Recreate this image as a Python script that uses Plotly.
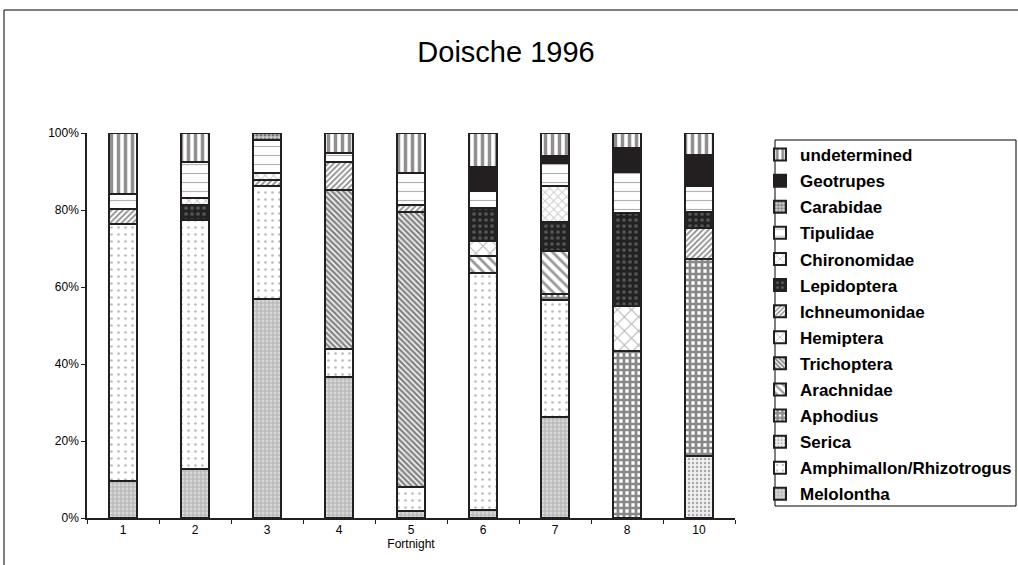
import plotly.graph_objects as go

categories = ["1", "2", "3", "4", "5", "6", "7", "8", "10"]

melolontha = [9.6, 12.8, 57.0, 36.5, 1.8, 2.0, 26.3, 0, 0]
amphimallon = [66.7, 64.7, 29.2, 7.5, 6.3, 61.6, 30.4, 0, 0]
serica = [0, 0, 0, 0, 0, 0, 0, 0, 16.1]
aphodius = [0, 0, 0, 0, 0, 0, 1.6, 43.3, 51.3]
arachnidae = [0, 0, 0, 0, 0, 4.4, 11.0, 0, 0]
trichoptera = [0, 0, 0, 41.2, 71.4, 0, 0, 0, 0]
hemiptera = [0, 0, 0, 0, 0, 4.0, 0, 11.7, 0]
ichneumonidae = [3.9, 0, 1.7, 7.3, 1.9, 0, 0, 0, 8.0]
lepidoptera = [0, 3.7, 0, 0, 0, 8.6, 7.6, 24.3, 4.1]
chironomidae = [0, 2.0, 1.6, 0, 0, 0, 9.4, 0, 0]
tipulidae = [3.9, 9.3, 8.7, 2.2, 8.1, 4.3, 5.8, 10.6, 6.7]
carabidae = [0, 0, 1.8, 0, 0, 0, 0, 0, 0]
geotrupes = [0, 0, 0, 0, 0, 6.3, 2.0, 6.3, 8.1]
undetermined = [15.9, 7.5, 0, 5.3, 10.5, 8.8, 5.9, 3.8, 5.7]

series = [
    ("Melolontha", melolontha, dict(shape="+", fgcolor="#8a8a8a", bgcolor="#d8d8d8", size=4, solidity=0.45)),
    ("Amphimallon/Rhizotrogus", amphimallon, dict(shape=".", fgcolor="#777777", bgcolor="white", size=7, solidity=0.12)),
    ("Serica", serica, dict(shape=".", fgcolor="#666666", bgcolor="#f0f0f0", size=4, solidity=0.3)),
    ("Aphodius", aphodius, dict(shape="+", fgcolor="#111111", bgcolor="white", size=6, solidity=0.7)),
    ("Arachnidae", arachnidae, dict(shape="\\", fgcolor="#333333", bgcolor="white", size=7, solidity=0.4)),
    ("Trichoptera", trichoptera, dict(shape="\\", fgcolor="#111111", bgcolor="#f2f2f2", size=4, solidity=0.55)),
    ("Hemiptera", hemiptera, dict(shape="x", fgcolor="#666666", bgcolor="white", size=10, solidity=0.2)),
    ("Ichneumonidae", ichneumonidae, dict(shape="/", fgcolor="#1a1a1a", bgcolor="white", size=4, solidity=0.45)),
    ("Lepidoptera", lepidoptera, dict(shape=".", fgcolor="#888888", bgcolor="#222222", size=6, solidity=0.3)),
    ("Chironomidae", chironomidae, dict(shape="x", fgcolor="#999999", bgcolor="white", size=6, solidity=0.3)),
    ("Tipulidae", tipulidae, dict(shape="-", fgcolor="#666666", bgcolor="white", size=9, solidity=0.13)),
    ("Carabidae", carabidae, dict(shape=".", fgcolor="#222222", bgcolor="#cccccc", size=4, solidity=0.5)),
    ("Geotrupes", geotrupes, dict(shape="", fgcolor="#231f20", bgcolor="#231f20")),
    ("undetermined", undetermined, dict(shape="|", fgcolor="#231f20", bgcolor="white", size=7, solidity=0.5)),
]

fig = go.Figure()
for i, (name, vals, pat) in enumerate(series):
    color = "#231f20" if name == "Geotrupes" else pat.get("bgcolor", "white")
    fig.add_trace(go.Bar(
        x=categories, y=vals, name=name, width=0.4, legendgroup=name,
        legendrank=1000 - i,
        marker=dict(color=color, pattern=pat, line=dict(color="#231f20", width=2)),
    ))

L, R, T, B = 87, 283, 133, 47
W, H = 1018, 565
pw = W - L - R
ph = H - T - B

def px_x(p):
    return (p - L) / pw

def px_y(p):
    return (H - B - p) / ph

fig.update_layout(
    width=W, height=H, autosize=False,
    margin=dict(l=L, r=R, t=T, b=B),
    barmode="stack",
    paper_bgcolor="white", plot_bgcolor="white",
    font=dict(family="Liberation Sans, Arial, sans-serif", color="black"),
    title=dict(text="Doische 1996", x=px_x(506), xref="paper", xanchor="center",
               y=1 - 52 / H, yanchor="middle", font=dict(size=29, color="black")),
    legend=dict(
        xref="container", yref="container",
        x=760 / W, y=1 - 137 / H, xanchor="left", yanchor="top",
        traceorder="grouped", tracegroupgap=1, borderwidth=0,
        font=dict(size=17, weight="bold", color="black"),
        bgcolor="rgba(0,0,0,0)", itemwidth=30, maxheight=560,
    ),
    shapes=[
        dict(type="rect", xref="paper", yref="paper",
             x0=px_x(4), x1=px_x(1030), y0=px_y(575), y1=px_y(10),
             line=dict(color="black", width=1), fillcolor="rgba(0,0,0,0)", layer="below"),
        dict(type="rect", xref="paper", yref="paper",
             x0=px_x(775), x1=px_x(1016), y0=px_y(506), y1=px_y(140),
             line=dict(color="black", width=1), fillcolor="rgba(0,0,0,0)", layer="below"),
    ],
)
fig.update_xaxes(
    type="category", showline=True, linecolor="#231f20", linewidth=1.5,
    ticks="outside", ticklen=4, tickcolor="#231f20", tickson="boundaries",
    showgrid=False, tickfont=dict(size=12, color="black"),
    title=dict(text="Fortnight", font=dict(size=12, color="black"), standoff=2),
)
fig.update_yaxes(
    range=[0, 100], dtick=20, ticksuffix="%", showline=True, linecolor="#231f20",
    linewidth=1.5, ticks="outside", ticklen=4, tickcolor="#231f20",
    showgrid=False, zeroline=False, tickfont=dict(size=12, color="black"),
)
fig.write_html(
    "out.html",
    config={"displayModeBar": False, "responsive": False},
    post_script="document.body.style.margin='0';document.body.style.overflow='hidden';",
)
